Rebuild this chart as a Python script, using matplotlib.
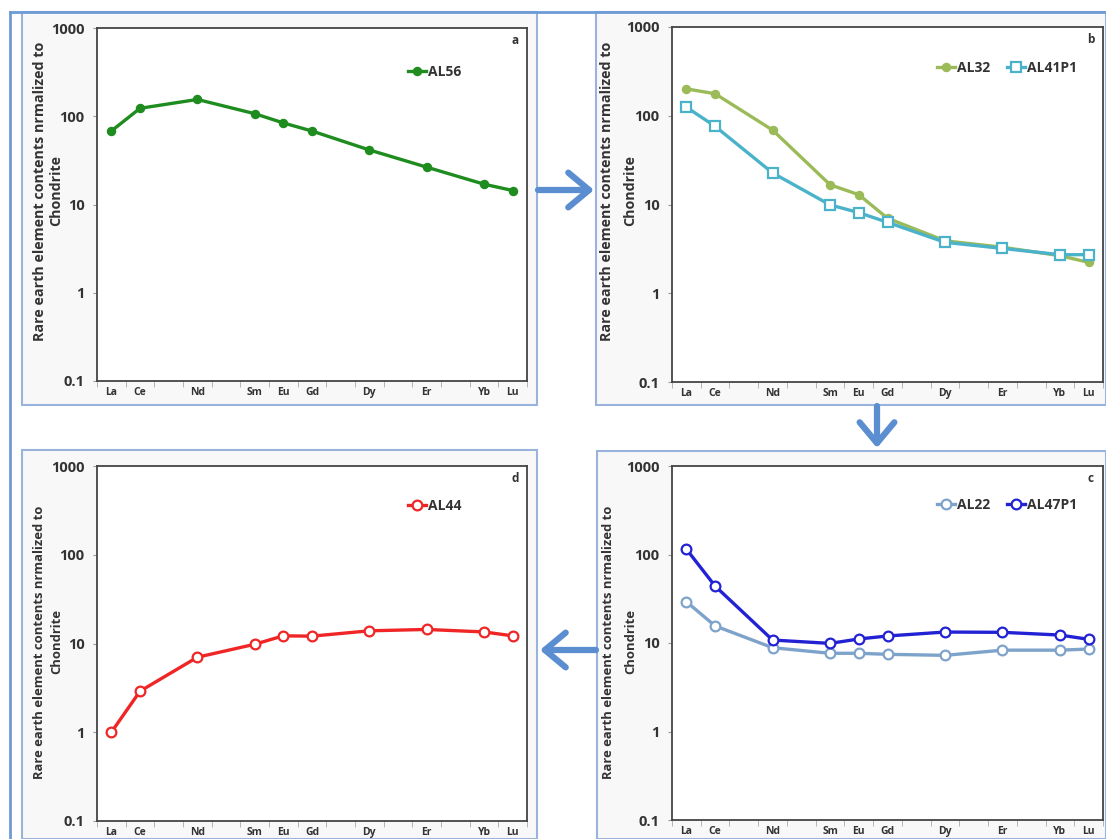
import matplotlib
matplotlib.use("Agg")
import matplotlib.pyplot as plt
from matplotlib.patches import Rectangle, FancyArrowPatch
from matplotlib.lines import Line2D
import numpy as np

plt.rcParams['font.family'] = ['Open Sans', 'DejaVu Sans']

# ---- data ----
elements = ["La", "Ce", "Pr", "Nd", "Pm", "Sm", "Eu", "Gd", "Tb", "Dy", "Ho", "Er", "Tm", "Yb", "Lu"]
shown_labels = ["La", "Ce", "", "Nd", "", "Sm", "Eu", "Gd", "", "Dy", "", "Er", "", "Yb", "Lu"]
plotted = ["La", "Ce", "Nd", "Sm", "Eu", "Gd", "Dy", "Er", "Yb", "Lu"]

AL56 = [68, 123, 155, 107, 84, 68, 41.5, 26.5, 17, 14.4]
AL32 = [201, 177, 69, 16.7, 12.9, 7.0, 3.9, 3.3, 2.65, 2.23]
AL41P1 = [125, 76, 22.7, 9.9, 8.1, 6.3, 3.75, 3.2, 2.72, 2.72]
AL22 = [29.3, 15.6, 8.85, 7.65, 7.65, 7.45, 7.25, 8.3, 8.3, 8.55]
AL47P1 = [115, 44, 10.8, 9.9, 11.1, 12.0, 13.3, 13.2, 12.3, 11.0]
AL44 = [1.0, 2.9, 7.0, 9.8, 12.2, 12.1, 13.9, 14.4, 13.5, 12.2]

y_ticks = [0.1, 1, 10, 100, 1000]
y_ticklabels = ["0.1", "1", "10", "100", "1000"]
ylabel_lines = ["Rare earth element contents nrmalized to", "Chondrite"]

W, H = 1106, 839
fig = plt.figure(figsize=(W / 100, H / 100), dpi=100)
fig.patch.set_facecolor("white")

def fx(px):
    return px / W

def fy(py):
    return 1 - py / H

# ---- frames ----
frame_col = "#9ab3dc"
outer_col = "#6e9bd6"
for (x0, y0, x1, y1) in [(22, 12, 537, 405), (596, 12, 1106, 405),
                         (22, 450, 537, 839), (597, 451, 1106, 839)]:
    fig.add_artist(Rectangle((fx(x0), fy(y1)), fx(x1) - fx(x0), fy(y0) - fy(y1),
                             transform=fig.transFigure, facecolor="#f8f8f8",
                             edgecolor=frame_col, linewidth=1.5, zorder=-10))
fig.add_artist(Line2D([fx(10), fx(10)], [fy(12), fy(839)], color=outer_col, lw=2.0,
                      transform=fig.transFigure, zorder=-9))
fig.add_artist(Line2D([fx(10), fx(1106)], [fy(12), fy(12)], color=outer_col, lw=2.0,
                      transform=fig.transFigure, zorder=-9))

x_idx = [elements.index(e) for e in plotted]

def make_axes(left, right, top, bottom, letter, line_x_px, label_cy_px, label_size):
    ax = fig.add_axes([fx(left), fy(bottom), fx(right) - fx(left), fy(top) - fy(bottom)])
    ax.set_zorder(1)
    ax.set_facecolor("white")
    ax.set_yscale("log")
    ax.set_ylim(0.1, 1000)
    ax.set_xlim(-0.5, len(elements) - 0.5)
    ax.set_yticks(y_ticks)
    ax.set_yticklabels(y_ticklabels, fontsize=10.5, fontweight="bold", color="#333333")
    ax.yaxis.set_minor_locator(matplotlib.ticker.NullLocator())
    ax.tick_params(axis="y", which="major", length=3, color="#999999", pad=6)
    ax.set_xticks(range(len(elements)))
    ax.set_xticklabels(shown_labels, fontsize=7.5, fontweight="bold", color="#333333")
    ax.set_xticks(np.arange(-0.5, len(elements), 1.0), minor=True)
    ax.tick_params(axis="x", which="major", length=0, pad=4)
    ax.tick_params(axis="x", which="minor", length=4, color="#aaaaaa", direction="out")
    for s in ax.spines.values():
        s.set_color("#444444")
        s.set_linewidth(1.3)
    cy = (bottom - label_cy_px) / (bottom - top)
    for txt, lx in zip(ylabel_lines, line_x_px):
        cx = (lx - left) / (right - left)
        ax.text(cx, cy, txt, transform=ax.transAxes, rotation=90, ha="center", va="center",
                fontsize=label_size, fontweight="bold", color="#333333")
    ax.text(0.972, 0.965, letter, transform=ax.transAxes, ha="center", va="center",
            fontsize=8.5, fontweight="bold", color="#333333")
    return ax

# panel a
axa = make_axes(97, 527, 28, 381, "a", (40, 56), 191, 10.3)
axa.plot(x_idx, AL56, color="#1e8c1e", lw=2.4, marker="o", ms=5.8, mfc="#1e8c1e",
         mec="#1e8c1e", label="AL56")

# panel b
axb = make_axes(672, 1103, 27, 382, "b", (607, 630), 191, 10.3)
axb.plot(x_idx, AL32, color="#9bbb59", lw=2.4, marker="o", ms=5.8, mfc="#9bbb59",
         mec="#9bbb59", label="AL32")
axb.plot(x_idx, AL41P1, color="#4bb3c9", lw=2.4, marker="s", ms=7.2, mfc="white",
         mec="#4bb3c9", mew=1.6, label="AL41P1")

# panel c
axc = make_axes(672, 1103, 466, 820, "c", (608, 631), 642, 9.4)
axc.plot(x_idx, AL22, color="#7ea3cb", lw=2.4, marker="o", ms=7, mfc="white",
         mec="#7ea3cb", mew=1.6, label="AL22")
axc.plot(x_idx, AL47P1, color="#2222d4", lw=2.4, marker="o", ms=7, mfc="white",
         mec="#2222d4", mew=1.6, label="AL47P1")

# panel d
axd = make_axes(97, 527, 466, 821, "d", (40, 57), 642, 9.4)
axd.plot(x_idx, AL44, color="#f02525", lw=2.4, marker="o", ms=7, mfc="white",
         mec="#f02525", mew=1.6, label="AL44")

leg_kw = dict(frameon=False, handlelength=1.3, handletextpad=0.15, borderaxespad=0,
              borderpad=0, columnspacing=1.2, prop={"weight": "bold", "size": 10})
axa.legend(loc="center left", bbox_to_anchor=(0.724, 0.875), **leg_kw)
axb.legend(loc="center left", bbox_to_anchor=(0.615, 0.885), ncol=2, **leg_kw)
axc.legend(loc="center left", bbox_to_anchor=(0.615, 0.89), ncol=2, **leg_kw)
axd.legend(loc="center left", bbox_to_anchor=(0.724, 0.887), **leg_kw)
for ax in (axa, axb, axc, axd):
    for t in ax.get_legend().get_texts():
        t.set_color("#333333")

# ---- arrows ----
arrow_col = "#5b8ed1"
def arrow(p0, p1):
    a = FancyArrowPatch((fx(p0[0]), fy(p0[1])), (fx(p1[0]), fy(p1[1])),
                        transform=fig.transFigure, arrowstyle="->,head_length=0.6,head_width=0.5",
                        mutation_scale=25, color=arrow_col, lw=4.5, shrinkA=0, shrinkB=0,
                        capstyle="round", joinstyle="round", zorder=5)
    fig.add_artist(a)

arrow((538, 190), (594, 190))
arrow((877, 406), (877, 448))
arrow((596, 650), (540, 650))

fig.savefig("out.png", dpi=100, facecolor="white")
